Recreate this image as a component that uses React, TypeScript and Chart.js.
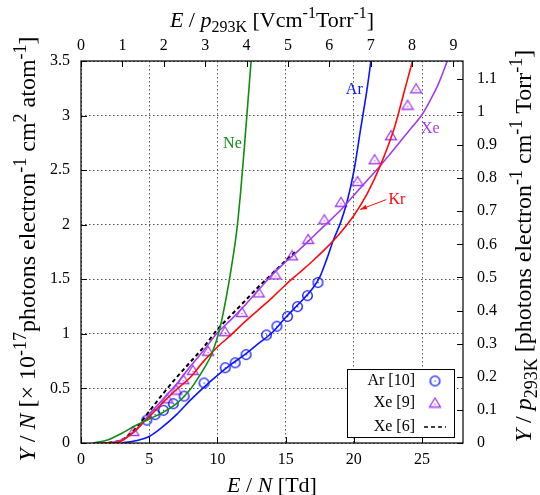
import React, { useEffect, useRef } from 'react';
import { Chart, registerables } from 'chart.js';

Chart.register(...registerables);

// conversion N/p at 293 K : E/p [V cm^-1 Torr^-1] = F * E/N [Td],  Y/p = F * Y/N(1e-17)
const F = 0.3297;

const xMax = 28;
const yMax = 3.5;
const xTickValues = [0, 5, 10, 15, 20, 25];
const yTickValues = [0, 0.5, 1, 1.5, 2, 2.5, 3, 3.5];
const topTickValues = [0, 1, 2, 3, 4, 5, 6, 7, 8, 9];
const rightTickValues = [0, 0.1, 0.2, 0.3, 0.4, 0.5, 0.6, 0.7, 0.8, 0.9, 1, 1.1];

// Ne curve
const neX = [0.9, 2, 3, 4, 5, 6, 7, 8, 8.6, 9, 9.6, 10.2, 10.7, 11.05, 11.4, 11.7, 12.0, 12.25, 12.5];
const neY = [0, 0.03, 0.09, 0.16, 0.22, 0.28, 0.36, 0.49, 0.6, 0.68, 0.82, 1.06, 1.37, 1.63, 1.93, 2.3, 2.75, 3.15, 3.55];

// Ar curve
const arX = [3.0, 4, 5, 6, 7, 8, 9, 10, 11, 12, 13, 14, 15, 16, 17, 17.5, 18, 18.5, 19, 19.5, 20, 20.5, 21, 21.25];
const arY = [0, 0.02, 0.06, 0.15, 0.26, 0.39, 0.51, 0.62, 0.72, 0.81, 0.91, 1.01, 1.15, 1.28, 1.42, 1.52, 1.68, 1.86, 2.01, 2.21, 2.49, 2.88, 3.27, 3.5];

// Kr curve
const krX = [1.6, 2.6, 3, 4, 5, 6, 7, 8, 9, 10, 11, 12, 13, 14, 15, 16, 17, 18, 19, 20, 21, 22, 23, 23.65, 24.3];
const krY = [0, 0.005, 0.02, 0.12, 0.24, 0.37, 0.49, 0.6, 0.75, 0.88, 0.99, 1.11, 1.22, 1.33, 1.45, 1.56, 1.67, 1.79, 1.925, 2.085, 2.29, 2.56, 2.9, 3.2, 3.5];

// Xe curve
const xeX = [1.0, 2.2, 3, 4, 5, 6, 7, 8, 9, 10, 11, 12, 13, 14, 15, 16, 17, 18, 19, 20, 21, 22, 23, 24, 25, 25.6, 26.2, 26.85];
const xeY = [0, 0.005, 0.03, 0.11, 0.26, 0.4, 0.54, 0.7, 0.85, 1.01, 1.13, 1.26, 1.4, 1.54, 1.66, 1.77, 1.89, 2.01, 2.13, 2.27, 2.41, 2.55, 2.7, 2.855, 3.01, 3.14, 3.29, 3.5];

// Xe [6] (dashed)
const xe6X = [2.0, 3, 4, 5, 6, 7, 8, 9, 10, 11, 12, 13, 14, 15, 15.8];
const xe6Y = [0, 0.03, 0.13, 0.29, 0.45, 0.6, 0.74, 0.88, 1.04, 1.17, 1.3, 1.43, 1.55, 1.67, 1.76];

// Ar [10] measured points
const ar10X = [4.82, 5.43, 6.04, 6.77, 7.56, 9.02, 10.57, 11.3, 12.1, 13.6, 14.36, 15.14, 15.87, 16.6, 17.37];
const ar10Y = [0.21, 0.26, 0.3, 0.36, 0.43, 0.55, 0.69, 0.735, 0.81, 0.99, 1.07, 1.16, 1.25, 1.35, 1.47];

// Xe [9] measured points
const xe9X = [3.84, 6.33, 6.99, 7.5, 8.2, 9.32, 10.55, 11.79, 13.03, 14.25, 15.47, 16.65, 17.83, 19.05, 20.27, 21.52, 22.72, 23.94, 24.56];
const xe9Y = [0.11, 0.41, 0.49, 0.585, 0.67, 0.845, 1.025, 1.2, 1.38, 1.545, 1.72, 1.87, 2.05, 2.21, 2.4, 2.6, 2.82, 3.1, 3.25];

// curve labels
const curveLabels = ['Ne', 'Ar', 'Kr', 'Xe'];
const curveLabelX = [11.1, 20.03, 23.15, 25.6];
const curveLabelY = [2.74, 3.24, 2.23, 2.88];

const legendLabels = ['Ar [10]', 'Xe [9]', 'Xe [6]'];

const C_NE = '#128c12';
const C_AR = '#0a14ff';
const C_KR = '#ff0a0a';
const C_XE = '#a23cf2';

const FAM = '"Liberation Serif", "DejaVu Serif", "Times New Roman", serif';

type Part = { t: string; it?: boolean; sub?: boolean; sup?: boolean };

function drawRich(ctx: CanvasRenderingContext2D, parts: Part[], cx: number, cy: number, size: number, rotate: boolean) {
  ctx.save();
  ctx.translate(cx, cy);
  if (rotate) ctx.rotate(-Math.PI / 2);
  ctx.textBaseline = 'alphabetic';
  ctx.textAlign = 'left';
  ctx.fillStyle = '#000';
  const small = Math.round(size * 0.74);
  const fontFor = (p: Part) => `${p.it ? 'italic ' : ''}${p.sub || p.sup ? small : size}px ${FAM}`;
  let w = 0;
  for (const p of parts) {
    ctx.font = fontFor(p);
    w += ctx.measureText(p.t).width;
  }
  let x = -w / 2;
  const base = size * 0.35;
  for (const p of parts) {
    ctx.font = fontFor(p);
    const dy = p.sup ? -size * 0.4 : p.sub ? size * 0.25 : 0;
    ctx.fillText(p.t, x, base + dy);
    x += ctx.measureText(p.t).width;
  }
  ctx.restore();
}

function makeCircle(color: string) {
  const c = document.createElement('canvas');
  c.width = 13;
  c.height = 13;
  const g = c.getContext('2d')!;
  g.strokeStyle = color;
  g.lineWidth = 1.3;
  g.beginPath();
  g.arc(6.5, 6.5, 4.8, 0, Math.PI * 2);
  g.stroke();
  g.fillStyle = color;
  g.fillRect(6, 6, 1.2, 1.2);
  return c;
}

function makeTriangle(color: string) {
  const c = document.createElement('canvas');
  c.width = 14;
  c.height = 12;
  const g = c.getContext('2d')!;
  g.strokeStyle = color;
  g.lineWidth = 1.3;
  g.beginPath();
  g.moveTo(7, 1.5);
  g.lineTo(1.5, 10.5);
  g.lineTo(12.5, 10.5);
  g.closePath();
  g.stroke();
  g.fillStyle = color;
  g.fillRect(6.4, 7, 1.2, 1.2);
  return c;
}

const pts = (xs: number[], ys: number[]) => xs.map((x, i) => ({ x, y: ys[i] }));

export default function App() {
  const ref = useRef<HTMLCanvasElement>(null);

  useEffect(() => {
    const canvas = ref.current!;
    const circ = makeCircle(C_AR);
    const tri = makeTriangle(C_XE);

    const curve = (xs: number[], ys: number[], color: string, extra: any = {}) => ({
      data: pts(xs, ys),
      borderColor: color,
      backgroundColor: color,
      borderWidth: 1.6,
      pointRadius: 0,
      fill: false,
      cubicInterpolationMode: 'monotone',
      xAxisID: 'x',
      yAxisID: 'y',
      ...extra,
    });
    const marks = (xs: number[], ys: number[], img: HTMLCanvasElement) => ({
      data: pts(xs, ys),
      showLine: false,
      pointStyle: img,
      pointRadius: 6,
      xAxisID: 'x',
      yAxisID: 'y',
    });

    const decor = {
      id: 'decor',
      afterDatasetsDraw(chart: any) {
        const { ctx, chartArea: a, scales } = chart;
        ctx.save();
        // frame
        ctx.strokeStyle = '#000';
        ctx.lineWidth = 1.2;
        ctx.setLineDash([]);
        ctx.strokeRect(a.left, a.top, a.right - a.left, a.bottom - a.top);
        // inward ticks
        ctx.lineWidth = 1;
        const tl = 6;
        ctx.beginPath();
        for (const v of xTickValues) {
          const px = Math.round(scales.x.getPixelForValue(v)) + 0.5;
          ctx.moveTo(px, a.bottom);
          ctx.lineTo(px, a.bottom - tl);
        }
        for (const v of topTickValues) {
          const px = Math.round(scales.x2.getPixelForValue(v)) + 0.5;
          ctx.moveTo(px, a.top);
          ctx.lineTo(px, a.top + tl);
        }
        for (const v of yTickValues) {
          const py = Math.round(scales.y.getPixelForValue(v)) + 0.5;
          ctx.moveTo(a.left, py);
          ctx.lineTo(a.left + tl, py);
        }
        for (const v of rightTickValues) {
          const py = Math.round(scales.y2.getPixelForValue(v)) + 0.5;
          ctx.moveTo(a.right, py);
          ctx.lineTo(a.right - tl, py);
        }
        ctx.stroke();

        // curve labels
        const colors = [C_NE, C_AR, C_KR, C_XE];
        ctx.font = `16px ${FAM}`;
        ctx.textAlign = 'center';
        ctx.textBaseline = 'middle';
        curveLabels.forEach((t, i) => {
          ctx.fillStyle = colors[i];
          ctx.fillText(t, scales.x.getPixelForValue(curveLabelX[i]), scales.y.getPixelForValue(curveLabelY[i]));
        });
        // Kr arrow
        const tx = scales.x.getPixelForValue(22.38);
        const ty = scales.y.getPixelForValue(2.23);
        const hx = scales.x.getPixelForValue(20.47);
        const hy = scales.y.getPixelForValue(2.14);
        ctx.strokeStyle = C_KR;
        ctx.fillStyle = C_KR;
        ctx.lineWidth = 1;
        ctx.beginPath();
        ctx.moveTo(tx, ty);
        ctx.lineTo(hx, hy);
        ctx.stroke();
        const ang = Math.atan2(hy - ty, hx - tx);
        ctx.beginPath();
        ctx.moveTo(hx, hy);
        ctx.lineTo(hx - 7 * Math.cos(ang - 0.35), hy - 7 * Math.sin(ang - 0.35));
        ctx.lineTo(hx - 7 * Math.cos(ang + 0.35), hy - 7 * Math.sin(ang + 0.35));
        ctx.closePath();
        ctx.fill();

        // legend
        const L = a.right - 116;
        const R = a.right - 9;
        const T = a.bottom - 74;
        const B = a.bottom - 6;
        ctx.fillStyle = '#fff';
        ctx.fillRect(L, T, R - L, B - T);
        ctx.strokeStyle = '#000';
        ctx.lineWidth = 1;
        ctx.strokeRect(Math.round(L) + 0.5, Math.round(T) + 0.5, R - L, B - T);
        const rows = [a.bottom - 62, a.bottom - 40, a.bottom - 16];
        ctx.font = `16px ${FAM}`;
        ctx.fillStyle = '#000';
        ctx.textAlign = 'right';
        ctx.textBaseline = 'middle';
        legendLabels.forEach((t, i) => ctx.fillText(t, a.right - 48, rows[i]));
        const sx = a.right - 28;
        ctx.drawImage(circ, sx - 6.5, rows[0] - 6.5);
        ctx.drawImage(tri, sx - 7, rows[1] - 6.5);
        ctx.strokeStyle = '#000';
        ctx.lineWidth = 1.6;
        ctx.setLineDash([4, 3]);
        ctx.beginPath();
        ctx.moveTo(sx - 11, rows[2]);
        ctx.lineTo(sx + 11, rows[2]);
        ctx.stroke();
        ctx.setLineDash([]);

        // axis titles
        const S = 22;
        const SV = 24;
        const cxm = (a.left + a.right) / 2;
        drawRich(ctx, [{ t: 'E', it: true }, { t: ' / ' }, { t: 'N', it: true }, { t: ' [Td]' }], cxm, 484, S, false);
        drawRich(ctx, [
          { t: 'E', it: true }, { t: ' / ' }, { t: 'p', it: true }, { t: '293K', sub: true },
          { t: ' [Vcm' }, { t: '-1', sup: true }, { t: 'Torr' }, { t: '-1', sup: true }, { t: ']' },
        ], cxm, 19, S, false);
        drawRich(ctx, [
          { t: 'Y', it: true }, { t: ' / ' }, { t: 'N', it: true }, { t: ' [\u00d7 10' }, { t: '-17', sup: true },
          { t: 'photons electron' }, { t: '-1', sup: true }, { t: ' cm' }, { t: '2', sup: true },
          { t: ' atom' }, { t: '-1', sup: true }, { t: ']' },
        ], 27, 249, SV, true);
        drawRich(ctx, [
          { t: 'Y', it: true }, { t: ' / ' }, { t: 'p', it: true }, { t: '293K', sub: true },
          { t: ' [photons electron' }, { t: '-1', sup: true }, { t: ' cm' }, { t: '-1', sup: true },
          { t: ' Torr' }, { t: '-1', sup: true }, { t: ']' },
        ], 523, 246, SV, true);
        ctx.restore();
      },
    };

    const tickFont = { family: FAM, size: 16 };
    const setTicks = (vals: number[]) => (scale: any) => {
      scale.ticks = vals.map((v) => ({ value: v }));
    };
    const fmt = (v: any) => `${+Number(v).toFixed(2)}`;

    const chart = new Chart(canvas, {
      type: 'line',
      data: {
        datasets: [
          curve(neX, neY, C_NE),
          curve(krX, krY, C_KR),
          curve(xeX, xeY, C_XE),
          curve(xe6X, xe6Y, '#000', { borderDash: [4, 3], borderWidth: 2 }),
          curve(arX, arY, C_AR),
          marks(ar10X, ar10Y, circ),
          marks(xe9X, xe9Y, tri),
        ] as any,
      },
      options: {
        responsive: false,
        animation: false,
        devicePixelRatio: 1,
        layout: { padding: 0 },
        plugins: { legend: { display: false }, tooltip: { enabled: false } },
        scales: {
          x: {
            type: 'linear',
            position: 'bottom',
            min: 0,
            max: xMax,
            afterBuildTicks: setTicks(xTickValues),
            afterFit: (s: any) => { s.height = 52; },
            ticks: { font: tickFont, color: '#000', padding: 7, maxRotation: 0, callback: fmt },
            grid: { display: true, drawTicks: false, color: '#555', lineWidth: 1 },
            border: { display: false, dash: [1.5, 2.5] },
          },
          x2: {
            type: 'linear',
            position: 'top',
            min: 0,
            max: xMax * F,
            afterBuildTicks: setTicks(topTickValues),
            afterFit: (s: any) => { s.height = 61; },
            ticks: { font: tickFont, color: '#000', padding: 6, maxRotation: 0, callback: fmt },
            grid: { display: false, drawTicks: false },
            border: { display: false },
          },
          y: {
            type: 'linear',
            position: 'left',
            min: 0,
            max: yMax,
            afterBuildTicks: setTicks(yTickValues),
            afterFit: (s: any) => { s.width = 81; },
            ticks: { font: tickFont, color: '#000', padding: 11, callback: fmt },
            grid: { display: true, drawTicks: false, color: '#555', lineWidth: 1 },
            border: { display: false, dash: [1.5, 2.5] },
          },
          y2: {
            type: 'linear',
            position: 'right',
            min: 0,
            max: yMax * F,
            afterBuildTicks: setTicks(rightTickValues),
            afterFit: (s: any) => { s.width = 77; },
            ticks: { font: tickFont, color: '#000', padding: 14, callback: fmt },
            grid: { display: false, drawTicks: false },
            border: { display: false },
          },
        },
      } as any,
      plugins: [decor],
    });
    return () => chart.destroy();
  }, []);

  return (
    <div style={{ position: 'absolute', left: 0, top: 0, width: 540, height: 495, background: '#fff' }}>
      <canvas ref={ref} width={540} height={495} style={{ display: 'block' }} />
    </div>
  );
}
